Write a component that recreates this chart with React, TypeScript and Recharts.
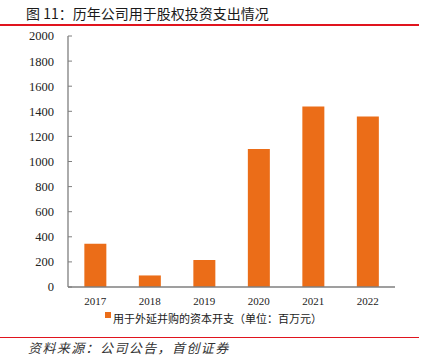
import React from 'react';
import { BarChart, Bar, XAxis, YAxis } from 'recharts';

const years = ['2017', '2018', '2019', '2020', '2021', '2022'];
const capex = [345, 92, 215, 1100, 1438, 1358];
const yTicks = [0, 200, 400, 600, 800, 1000, 1200, 1400, 1600, 1800, 2000];
const boundaryTicks = [0, 1, 2, 3, 4, 5, 6];
const seriesName = '用于外延并购的资本开支（单位：百万元）';
const title = '图 11：历年公司用于股权投资支出情况';
const source = '资料来源：公司公告，首创证券';

const data = years.map((y, i) => ({ year: y, value: capex[i] }));

const ORANGE = '#EB6D18';
const RED = '#E0141E';
const AXIS = '#7f7f7f';
const CJK = '"Noto Sans CJK SC", "Noto Sans", sans-serif';
const SERIF = '"Liberation Serif", "DejaVu Serif", serif';

export default function App() {
  return (
    <div style={{ position: 'absolute', left: 0, top: 0, width: 425, height: 361, background: '#fff', overflow: 'hidden' }}>
      <div style={{ position: 'absolute', left: 26, top: 3, fontFamily: CJK, fontSize: 14, lineHeight: '20px', color: '#1a1a1a', whiteSpace: 'nowrap' }}>
        {title}
      </div>
      <div style={{ position: 'absolute', left: 0, top: 24, width: 419, height: 2, background: RED }} />
      <div style={{ position: 'absolute', left: 0, top: 0 }}>
        <BarChart width={425} height={361} data={data} margin={{ top: 36, right: 30, left: 0, bottom: 44 }} barCategoryGap="30%">
          <XAxis
            xAxisId="bounds"
            type="number"
            domain={[0, 6]}
            ticks={boundaryTicks}
            allowDataOverflow
            height={0}
            axisLine={false}
            tickSize={-4}
            tickLine={{ stroke: AXIS }}
            tickFormatter={() => ''}
          />
          <XAxis
            xAxisId="cat"
            dataKey="year"
            height={30}
            axisLine={{ stroke: AXIS, strokeWidth: 1.3 }}
            tickLine={false}
            tickSize={0}
            tickMargin={10}
            tick={{ fill: '#222', fontSize: 11, fontFamily: SERIF }}
            interval={0}
          />
          <YAxis
            width={68}
            domain={[0, 2000]}
            ticks={yTicks}
            interval={0}
            axisLine={{ stroke: AXIS, strokeWidth: 1.3 }}
            tickLine={{ stroke: AXIS }}
            tickSize={-4}
            tickMargin={18}
            tick={{ fill: '#222', fontSize: 12.5, fontFamily: SERIF }}
          />
          <Bar xAxisId="cat" dataKey="value" name={seriesName} fill={ORANGE} isAnimationActive={false} />
        </BarChart>
      </div>
      <div style={{ position: 'absolute', left: 105, top: 312, width: 6, height: 6, background: ORANGE }} />
      <div style={{ position: 'absolute', left: 113, top: 310, fontFamily: CJK, fontSize: 11, lineHeight: '16px', color: '#1a1a1a', whiteSpace: 'nowrap' }}>
        {seriesName}
      </div>
      <div style={{ position: 'absolute', left: 0, top: 337, width: 419, height: 1, background: RED }} />
      <div style={{ position: 'absolute', left: 28, top: 339, fontFamily: CJK, fontSize: 13, lineHeight: '18px', fontStyle: 'italic', letterSpacing: 1.4, color: '#333', whiteSpace: 'nowrap' }}>
        {source}
      </div>
    </div>
  );
}
